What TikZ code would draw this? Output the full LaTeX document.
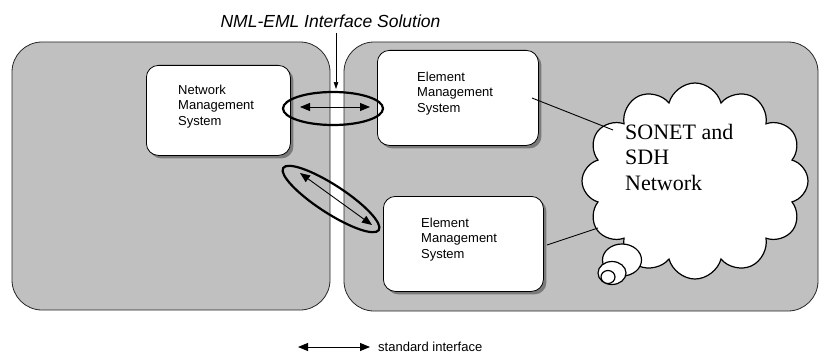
\documentclass[tikz,border=0pt]{standalone}
\usepackage{fontspec}
\setmainfont{Liberation Serif}
\setsansfont{Liberation Sans}
\usetikzlibrary{arrows.meta,shapes.geometric,shapes.symbols,shadows}
\definecolor{panelgray}{HTML}{C0C0C0}
\definecolor{shadowgray}{HTML}{7A7A7A}
\begin{document}
\begin{tikzpicture}[x=1pt,y=-1pt,
  panel/.style={draw=black!85, fill=panelgray, rounded corners=30pt, line width=0.8pt},
  box/.style={draw=black, fill=white, rounded corners=12pt, line width=0.8pt, inner sep=0pt, anchor=north west,
    drop shadow={shadow xshift=3pt, shadow yshift=-3pt, fill=shadowgray, opacity=1}},
  boxtext/.style={font=\sffamily\fontsize{13}{15.5}\selectfont, align=left, anchor=base west, inner sep=0pt},
  ring/.style={ellipse, draw, line width=2.2pt, inner sep=0pt},
  iface/.style={{Triangle[length=10pt,width=8pt]}-{Triangle[length=10pt,width=8pt]}, line width=0.9pt},
  bubble/.style={ellipse, draw, fill=white, line width=1.2pt, inner sep=0pt},
  link/.style={line width=0.9pt}
]
\useasboundingbox (0,0) rectangle (819,353);

% panels
\path[panel] (12,42) rectangle (330,310);
\path[panel] (344,42) rectangle (818,311);

% boxes
\node[box, minimum width=144pt, minimum height=90pt] (nms) at (146,65) {};
\node[box, minimum width=161pt, minimum height=95pt] (ems1) at (377,50) {};
\node[box, minimum width=160pt, minimum height=95pt] (ems2) at (383,196) {};

% (base anchor = baseline of last line)
\node[boxtext] (nmst) at (178,125) {Network\\Management\\System};
\node[boxtext] (ems1t) at (417,112) {Element\\Management\\System};
\node[boxtext] (ems2t) at (421,258) {Element\\Management\\System};

% title
\node[font=\sffamily\itshape\fontsize{17.5}{20}\selectfont, anchor=base, inner sep=0pt] (title) at (330.5,28) {NML-EML Interface Solution};
\coordinate (tarrs) at (336,33);
\coordinate (tarre) at (336,89);
\draw[-{Triangle[length=7pt,width=4.5pt]}, line width=0.6pt] (tarrs) -- (tarre);

% rings and interface arrows
\node[ring, minimum width=100pt, minimum height=33pt] (ring1) at (333,108.5) {};
\node[ring, minimum width=114pt, minimum height=28pt, rotate=-33] (ring2) at (331,199) {};
\coordinate (a1l) at (300,107);
\coordinate (a1r) at (370,107);
\draw[iface] (a1l) -- (a1r);
\coordinate (a2a) at (300,173);
\coordinate (a2b) at (372,225);
\draw[iface] (a2a) -- (a2b);

% cloud
\node[cloud, cloud puffs=12, cloud ignores aspect, draw, fill=white, line width=1.2pt,
      minimum width=226pt, minimum height=196pt, inner sep=0pt] (net) at (695,181) {};
\node[font=\rmfamily\fontsize{22}{25.5}\selectfont, align=left, anchor=base west, inner sep=0pt] (nett) at (625,190) {SONET and\\SDH\\Network};
\node[bubble, minimum width=39pt, minimum height=32pt] (b1) at (622,260) {};
\node[bubble, minimum width=28pt, minimum height=23pt] (b2) at (612,273) {};
\node[bubble, minimum width=14pt, minimum height=13pt] (b3) at (608,277) {};

% links
\coordinate (l1s) at (532,98);
\coordinate (l1e) at (613,130);
\draw[link] (l1s) -- (l1e);
\coordinate (l2s) at (547,245);
\coordinate (l2e) at (598,228);
\draw[link] (l2s) -- (l2e);

% legend
\coordinate (lgl) at (298,347);
\coordinate (lgr) at (370,347);
\draw[iface] (lgl) -- (lgr);
\node[font=\sffamily\fontsize{13}{15}\selectfont, anchor=base west, inner sep=0pt] (lgt) at (378,351) {standard interface};
\end{tikzpicture}
\end{document}
